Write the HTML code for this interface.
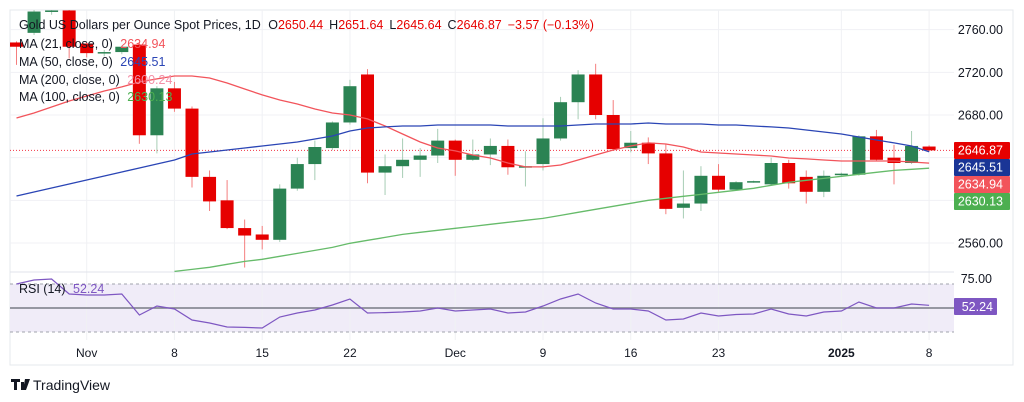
<!DOCTYPE html>
<html><head><meta charset="utf-8"><style>
html,body{margin:0;padding:0;background:#fff;}
svg{display:block;font-family:"Liberation Sans",sans-serif;}
</style></head><body>
<svg id="chart" width="1024" height="402" viewBox="0 0 1024 402" xmlns="http://www.w3.org/2000/svg">
<rect x="10" y="10" width="1003" height="355" fill="#fff" stroke="#e6e8ec"/>
<rect x="10" y="284" width="944" height="48" fill="#f0ecf8"/>
<g id="grid"></g>
<g id="marks"></g>
<g id="axes"></g>
<g font-size="12.5">
<text x="19" y="29" fill="#131722">Gold US Dollars per Ounce Spot Prices, 1D <tspan dx="4">O</tspan><tspan fill="#e60000">2650.44</tspan><tspan dx="6">H</tspan><tspan fill="#e60000">2651.64</tspan><tspan dx="6">L</tspan><tspan fill="#e60000">2645.64</tspan><tspan dx="6">C</tspan><tspan fill="#e60000">2646.87</tspan><tspan dx="6" fill="#e60000">−3.57 (−0.13%)</tspan></text>
<text x="19" y="48" fill="#131722">MA (21, close, 0) <tspan dx="4" fill="#f2545b">2634.94</tspan></text>
<text x="19" y="66" fill="#131722">MA (50, close, 0) <tspan dx="4" fill="#2a45b5">2645.51</tspan></text>
<text x="19" y="84" fill="#131722">MA (200, close, 0) <tspan dx="4" fill="#f48fa7">2600.24</tspan></text>
<text x="19" y="101" fill="#131722">MA (100, close, 0) <tspan dx="4" fill="#4caf50">2630.13</tspan></text>
<text x="19" y="293" fill="#131722">RSI (14) <tspan dx="4" fill="#7e57c2">52.24</tspan></text>
</g>
<g>
<path d="M11 379h9v3h-3v8h-3v-8h-3z M21 382h3v8h-3z M25 379h5l-4 11h-3z" fill="#131722"/>
<text x="33" y="390" font-size="14" fill="#131722">TradingView</text>
</g>
</svg>
<script>
const open=[2748,2757,2777,2778,2747,2738,2739,2746,2661,2705,2686,2622,2600,2574,2568,2563,2611,2634,2649,2673,2718,2626,2632,2638,2642,2656,2638,2643,2651,2631,2634,2658,2692,2718,2680,2649,2654,2644,2593,2597,2623,2610,2617,2615,2635,2622,2608,2624,2624,2660,2640,2635,2650.44];
const high=[2749,2779,2781,2780,2748,2741,2745,2748,2707,2711,2688,2628,2619,2582,2576,2615,2640,2656,2674,2713,2723,2643,2658,2649,2667,2657,2657,2658,2657,2646,2677,2697,2722,2728,2694,2665,2659,2653,2628,2632,2634,2618,2618.5,2640,2638,2628,2628,2626,2661,2666,2652,2665,2651.64];
const low=[2727,2755,2774,2733,2734,2735,2737,2653,2644,2683,2612,2590,2573,2537,2554,2561,2609,2619,2647,2671,2616,2605,2621,2622,2635,2623,2637,2633,2624,2613,2628,2656,2676,2676,2647,2645,2634,2587,2583,2590,2608,2609,2616.5,2614,2611,2597,2603,2623,2623,2637,2615,2634,2645.64];
const close=[2744,2777,2778,2744,2738,2739,2744,2661,2705,2686,2622,2599,2574,2567,2563,2611,2634,2650,2673,2707,2626,2632,2638,2642,2656,2638,2643,2651,2631,2632,2658,2692,2718,2680,2648,2654,2644,2592,2597,2623,2610,2617,2618,2635,2616,2608,2623,2625,2660,2638,2635,2651,2646.87];
const ma21=[2677.2,2681.9,2687.5,2693.1,2697.8,2702.5,2706.3,2710.9,2713.8,2716.6,2716.6,2714.7,2710,2704.4,2698.8,2694.1,2690.3,2685.6,2681.9,2680,2676.3,2669.7,2662.2,2654.7,2649.1,2646.3,2642.5,2639.7,2635,2631.3,2631.3,2633.1,2637.8,2642.5,2647.2,2650.9,2653.8,2652.8,2650,2645.3,2644.4,2643.4,2642.5,2641.6,2639.7,2638.8,2637.8,2636.9,2636.9,2636.9,2636.9,2635.9,2634.94];
const ma50=[2604.1,2607.8,2611.6,2615.3,2619.1,2622.8,2626.6,2630.3,2634.1,2637.8,2643.4,2645.3,2647.2,2649.1,2650.9,2652.8,2654.7,2657.5,2660.3,2665,2667.8,2668.8,2669.7,2669.7,2670.6,2670.6,2670.6,2670.6,2669.7,2669.7,2669.7,2669.7,2670.6,2671.6,2671.6,2671.6,2672.5,2671.6,2671.6,2671.6,2670.6,2670.6,2669.7,2668.8,2667.8,2665.9,2664.1,2662.2,2659.4,2656.6,2653.8,2650.9,2645.51];
const ma100=[null,null,null,null,null,null,null,null,null,2533.4,2535.3,2537.2,2540,2542.8,2544.7,2547.5,2550.3,2553.1,2555.9,2559.7,2562.5,2565.3,2568.1,2570,2571.9,2573.8,2575.6,2577.5,2579.4,2581.3,2583.1,2585.9,2588.8,2591.6,2594.4,2597.2,2600,2601.9,2603.8,2605.6,2607.5,2609.4,2611.3,2614.1,2616.9,2618.8,2620.6,2622.5,2624.4,2626.3,2628.1,2629.1,2630.13];
const rsi=[70,73.3,74.2,61.7,60.8,60.8,61.7,44.2,51.7,49.2,40,37.5,34.2,33.8,33.3,42.5,45.8,48.3,52.5,57.5,45.8,46.2,46.7,47.5,50,47.5,48.3,49.2,45.8,46.7,51.7,57.5,61.7,54.2,49.2,49.2,47.5,40,40.8,45.8,43.3,44.6,45,49.2,45,43.3,46.7,47.5,55,50,50,53.3,52.24];
const priceTicks=[2760,2720,2680,2560];
const dateLabels=["Nov","8","15","22","Dec","9","16","23","2025","8"];
const dateIdx=[4,9,14,19,25,30,35,40,47,52];
const lastPrice=2646.87;

const NS="http://www.w3.org/2000/svg";
const X=i=>16.5+17.55*i;
const Y=p=>115+(2680-p)*1.0667;
const RY=v=>308-(v-50)*1.2;
function mk(tag,attrs,parent){const e=document.createElementNS(NS,tag);for(const k in attrs)e.setAttribute(k,attrs[k]);parent.appendChild(e);return e;}
const grid=document.getElementById('grid'),marks=document.getElementById('marks'),axes=document.getElementById('axes');
// grid
[2760,2720,2680,2640,2600,2560].forEach(p=>{const l=mk('line',{x1:10,x2:954,y1:Y(p),y2:Y(p),stroke:'#f0f1f4'},grid);

});
dateIdx.forEach(i=>{const l=mk('line',{x1:X(i),x2:X(i),y1:10,y2:340,stroke:'#f0f1f4'},grid);

});
const sep=mk('line',{x1:10,x2:954,y1:272,y2:272,stroke:'#e0e3eb'},grid);


[70,30].forEach(v=>{const l=mk('line',{x1:10,x2:954,y1:RY(v),y2:RY(v),stroke:'#a0a3ad','stroke-dasharray':'3,3'},grid);

});
const mid=mk('line',{x1:10,x2:954,y1:RY(50),y2:RY(50),stroke:'#787b86','stroke-width':1.5},grid);


// clip
const defs=mk('defs',{},marks);const cp=mk('clipPath',{id:'pc'},defs);mk('rect',{x:10,y:10,width:944,height:262},cp);
const pg=mk('g',{'clip-path':'url(#pc)'},marks);
// price line
const pl=mk('line',{x1:10,x2:954,y1:Y(lastPrice),y2:Y(lastPrice),stroke:'#f23645','stroke-dasharray':'1,2','stroke-width':1},pg);


// candles
for(let i=0;i<open.length;i++){const up=close[i]>=open[i];const c=up?'#2b8353':'#e60000';const wc=up?'#a7cdb5':'#f47e7e';
const w=mk('line',{x1:X(i),x2:X(i),y1:Y(high[i]),y2:Y(low[i]),stroke:wc,'stroke-width':1},pg);


const t=Y(Math.max(open[i],close[i])),b=Y(Math.min(open[i],close[i]));
const r=mk('rect',{x:X(i)-6.5,y:t,width:13,height:Math.max(1.5,b-t),fill:c},pg);

}
function line(arr,yf,color,name,parent,w){let d='';arr.forEach((v,i)=>{if(v==null)return;d+=(d?'L':'M')+X(i).toFixed(1)+','+yf(v).toFixed(1);});
const p=mk('path',{d:d,fill:'none',stroke:color,'stroke-width':w||1.3},parent);

}
line(ma100,Y,'#66bb6a','ma100-line',pg);
line(ma21,Y,'#f2545b','ma21-line',pg);
line(ma50,Y,'#2a45b5','ma50-line',pg);
line(rsi,RY,'#7e57c2','rsi-line',marks,1.2);
// axes
priceTicks.forEach(p=>{const t=mk('text',{x:1003,y:Y(p)+4.5,'text-anchor':'end','font-size':12.5,fill:'#131722'},axes);t.textContent=p.toFixed(2);

});
const r75=mk('text',{x:992,y:283,'text-anchor':'end','font-size':12.5,fill:'#131722'},axes);r75.textContent='75.00';


dateLabels.forEach((s,k)=>{const t=mk('text',{x:X(dateIdx[k]),y:357,'text-anchor':'middle','font-size':12,fill:'#131722','font-weight':s==='2025'?'bold':'normal'},axes);t.textContent=s;

});
const badges=[[2646.87,'#e60000'],[2645.51,'#1a3596'],[2634.94,'#f2545b'],[2630.13,'#4caf50']];
const by=[142,159,176,193];
badges.forEach((b,k)=>{const g=mk('g',{},axes);


mk('rect',{x:954,y:by[k],width:56,height:17,fill:b[1],rx:1},g);
const t=mk('text',{x:1003,y:by[k]+12.5,'text-anchor':'end','font-size':12.5,fill:'#fff'},g);t.textContent=b[0].toFixed(2);});
const rb=mk('g',{},axes);


mk('rect',{x:954,y:298,width:43,height:17,fill:'#7e57c2',rx:1},rb);
const rt=mk('text',{x:993,y:311,'text-anchor':'end','font-size':12.5,fill:'#fff'},rb);rt.textContent=rsi[rsi.length-1].toFixed(2);
</script>
</body></html>
